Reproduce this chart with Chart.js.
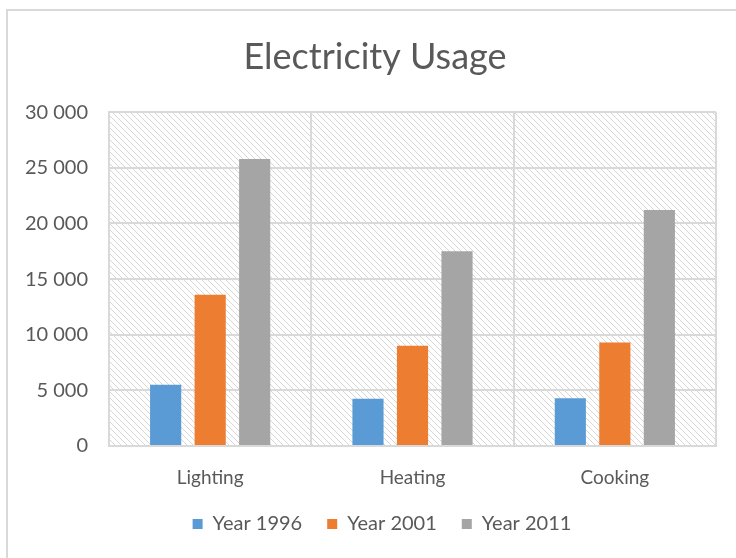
<!DOCTYPE html>
<html>
<head>
<meta charset="utf-8">
<script src="https://cdn.jsdelivr.net/npm/chart.js@4/dist/chart.umd.min.js"></script>
<style>
  html, body { margin: 0; padding: 0; background: #ffffff; }
  #wrap { width: 736px; height: 558px; position: relative; }
</style>
</head>
<body>
<div id="wrap"><canvas id="c" width="736" height="558"></canvas></div>
<script>
const categories = ["Lighting", "Heating", "Cooking"];
const seriesNames = ["Year 1996", "Year 2001", "Year 2011"];
const year1996 = [5500, 4250, 4300];
const year2001 = [13600, 9000, 9300];
const year2011 = [25800, 17500, 21200];
const seriesColors = ["#5B9BD5", "#ED7D31", "#A5A5A5"];
const yMin = 0, yMax = 30000, yStep = 5000;

const FONT = "Lato, 'Open Sans', sans-serif";
const TEXT = "#595959";

function makeHatch(ctx) {
  const p = document.createElement('canvas');
  p.width = 6; p.height = 6;
  const g = p.getContext('2d');
  g.strokeStyle = '#d6d6d6';
  g.lineWidth = 1;
  g.beginPath();
  g.moveTo(-1, -1); g.lineTo(7, 7);
  g.moveTo(-1, 5); g.lineTo(1, 7);
  g.moveTo(5, -1); g.lineTo(7, 1);
  g.stroke();
  return ctx.createPattern(p, 'repeat');
}

const bgPlugin = {
  id: 'bg',
  afterLayout(chart) {
    // Excel centres title/legend within the outer chart frame, not the canvas
    if (chart.titleBlock) { chart.titleBlock.left += 17; chart.titleBlock.right += 17; }
    if (chart.legend) { chart.legend.left += 24; chart.legend.right += 24; }
  },
  beforeDraw(chart) {
    const { ctx, chartArea: a } = chart;
    ctx.save();
    ctx.fillStyle = '#ffffff';
    ctx.fillRect(0, 0, chart.width, chart.height);
    ctx.strokeStyle = '#d9d9d9';
    ctx.lineWidth = 2;
    ctx.beginPath();
    ctx.moveTo(7, chart.height);
    ctx.lineTo(7, 10);
    ctx.lineTo(chart.width, 10);
    ctx.stroke();
    ctx.fillStyle = makeHatch(ctx);
    ctx.fillRect(a.left, a.top, a.right - a.left, a.bottom - a.top);
    ctx.restore();
  }
};

const datasets = [year1996, year2001, year2011].map((d, i) => ({
  label: seriesNames[i],
  data: d,
  backgroundColor: seriesColors[i],
  borderWidth: 0,
  barPercentage: 0.70,
  categoryPercentage: 0.66
}));

new Chart(document.getElementById('c'), {
  type: 'bar',
  data: { labels: categories, datasets },
  plugins: [bgPlugin],
  options: {
    responsive: false,
    animation: false,
    devicePixelRatio: 1,
    layout: { padding: { left: 0, right: 20, top: 0, bottom: 14 } },
    plugins: {
      title: {
        display: true,
        text: "Electricity Usage",
        color: TEXT,
        font: { family: FONT, size: 36, weight: 'normal' },
        padding: { top: 36, bottom: 33 }
      },
      legend: {
        position: 'bottom',
        labels: {
          color: TEXT,
          font: { family: FONT, size: 20 },
          boxWidth: 10,
          boxHeight: 10,
          padding: 25
        }
      },
      tooltip: { enabled: false }
    },
    scales: {
      x: {
        grid: { color: '#d9d9d9', lineWidth: 2, drawTicks: false, offset: true },
        border: { color: '#d9d9d9', width: 2 },
        ticks: { color: TEXT, font: { family: FONT, size: 19 }, padding: 20 },
        afterFit(scale) { scale.height = 43; }
      },
      y: {
        min: yMin, max: yMax,
        grid: { color: '#d9d9d9', lineWidth: 2, drawTicks: false },
        border: { color: '#d9d9d9', width: 2 },
        ticks: {
          stepSize: yStep,
          color: TEXT,
          font: { family: FONT, size: 20 },
          padding: 21,
          callback: v => String(v).replace(/\B(?=(\d{3})+(?!\d))/g, ' ')
        },
        afterFit(scale) { scale.width = 109; }
      }
    }
  }
});
</script>
</body>
</html>
